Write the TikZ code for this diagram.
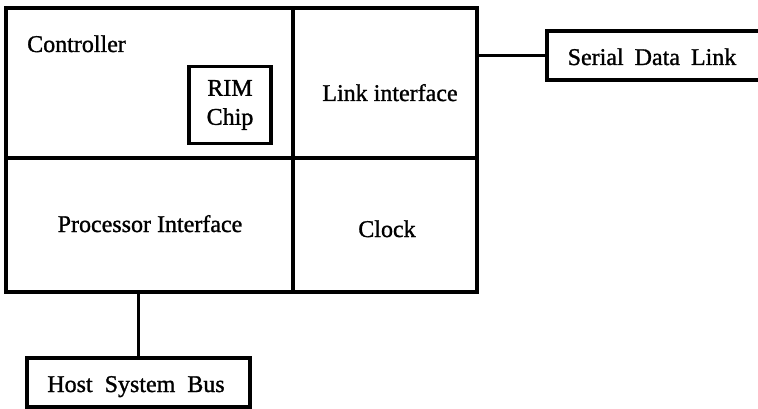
\documentclass[tikz,border=0pt]{standalone}
\usepackage{fontspec}
\setmainfont{Liberation Serif}
\newfontfamily\scanfont[FakeBold=1.2]{Liberation Serif}
\begin{document}
\begin{tikzpicture}[x=1pt,y=-1pt,
  cell/.style={draw, line width=3.3pt, rectangle, inner sep=0pt, outer sep=0pt},
  txt/.style={font=\scanfont\fontsize{24}{26}\selectfont, inner sep=0pt, anchor=base},
  conn/.style={line width=3.3pt}]
\useasboundingbox (0,0) rectangle (758,409);
\clip (0,0) rectangle (758,409);
% cells of the main block
\node[cell, minimum width=287pt, minimum height=150pt] (ctrl) at (149.5,83) {};
\node[cell, minimum width=184pt, minimum height=150pt] (link) at (385,83) {};
\node[cell, minimum width=287pt, minimum height=134pt] (proc) at (149.5,225) {};
\node[cell, minimum width=184pt, minimum height=134pt] (clock) at (385,225) {};
% labels
\node[txt, anchor=base west] (ctrltxt) at (27,52) {Controller};
\node[txt] (linktxt) at (390,101) {Link interface};
\node[txt] (proctxt) at (150,232) {Processor Interface};
\node[txt] (clocktxt) at (387,237) {Clock};
% RIM chip
\node[cell, minimum width=82pt, minimum height=77pt, align=center,
      font=\scanfont\fontsize{24}{29}\selectfont] (rim) at (230,105) {RIM\\Chip};
% external boxes
\node[cell, minimum width=240pt, minimum height=49pt] (sdl) at (667,55.5) {};
\node[txt] (sdltxt) at (652,65) {Serial\hspace{5pt} Data\hspace{5pt} Link};
\node[cell, minimum width=223pt, minimum height=49pt] (hsb) at (138.5,382.5) {};
\node[txt] (hsbtxt) at (136,392) {Host\hspace{6pt} System\hspace{6pt} Bus};
% connectors
\draw[conn] (sdl.west -| link.east) -- (sdl.west);
\draw[conn] (hsb.north |- proc.south) -- (hsb.north);
\end{tikzpicture}
\end{document}
